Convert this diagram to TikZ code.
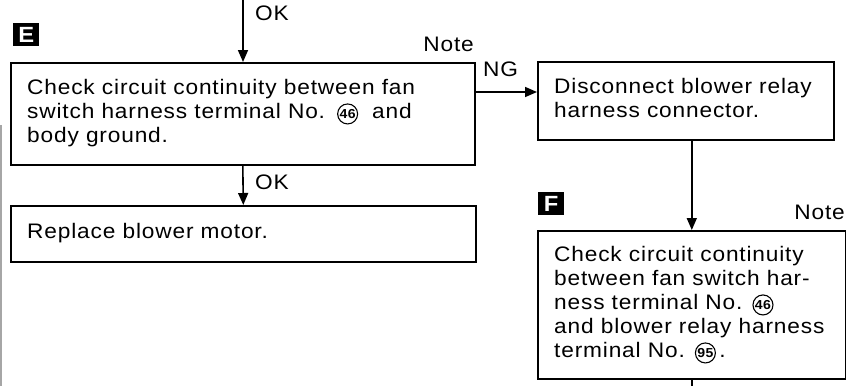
\documentclass[tikz,border=0pt]{standalone}
\usepackage{fontspec}
\setmainfont{Liberation Sans}[FakeStretch=1.08,LetterSpace=4]
\usetikzlibrary{arrows.meta}
\newcommand\circnum[1]{\tikz[baseline=(cn.base)]\node[circle,draw,line width=1.1pt,inner sep=0pt,minimum size=20pt,font=\bfseries\fontsize{13}{13}\selectfont](cn){#1};}
\begin{document}
\begin{tikzpicture}[x=1pt,y=-1pt,
  box/.style={draw,line width=1.6pt,rectangle,anchor=north west,inner sep=0pt},
  txt/.style={anchor=north west,inner sep=0pt,align=left,font=\fontsize{21}{24}\selectfont},
  lbl/.style={inner sep=0pt,font=\fontsize{21}{24}\selectfont},
  stepmark/.style={fill=black,text=white,inner sep=0pt,minimum width=26pt,minimum height=23pt,font=\bfseries\fontsize{22}{22}\selectfont,anchor=north west},
  arr/.style={line width=1.6pt,-{Triangle[width=10pt,length=12pt]}},
  ln/.style={line width=1.6pt}]
\useasboundingbox (0,0) rectangle (846,386);
% boxes
\node[box,minimum width=464pt,minimum height=102pt] (boxE) at (10,62) {};
\node[box,minimum width=465pt,minimum height=56pt] (boxR) at (10,205) {};
\node[box,minimum width=296pt,minimum height=78pt] (box1) at (537,61) {};
\node[box,minimum width=308pt,minimum height=148pt] (boxF) at (537,230) {};
% texts
\node[txt] (tE) at (27,79) {Check circuit continuity between fan\\switch harness terminal No.\hspace{12pt}\circnum{46}\hspace{14pt}and\\body ground.};
\node[txt] (tR) at (27,223) {Replace blower motor.};
\node[txt] (t1) at (554,78) {Disconnect blower relay\\harness connector.};
\node[txt] (tF) at (554,246) {Check circuit continuity\\between fan switch har-\\ness terminal No.\hspace{10pt}\circnum{46}\\and blower relay harness\\terminal No.\hspace{10pt}\circnum{95}\,.};
% markers and labels
\node[stepmark] (mE) at (13,23) {E};
\node[stepmark] (mF) at (538,192) {F};
\node[lbl,anchor=north east] (nE) at (474,37) {Note};
\node[lbl,anchor=north east] (nF) at (845,205) {Note};
\node[lbl,anchor=north west] (ok1) at (255,6) {OK};
\node[lbl,anchor=north west] (ok2) at (255,175) {OK};
\node[lbl,anchor=north west] (ng) at (483,62) {NG};
% connectors
\coordinate (top) at (243,0);
\draw[arr] (top) -- (top |- boxE.north);
\draw[arr] (boxE.south) -- (boxR.north);
\draw[arr] (boxE.east |- 0,92) -- (box1.west |- 0,92);
\draw[arr] (box1.south -| boxF.north) -- (boxF.north);
\coordinate (bot) at (boxF.south |- 0,386);
\draw[ln] (boxF.south) -- (bot);
% page edge
\draw[gray!70,line width=1.2pt] (1,125) -- (1,386);
\end{tikzpicture}
\end{document}
